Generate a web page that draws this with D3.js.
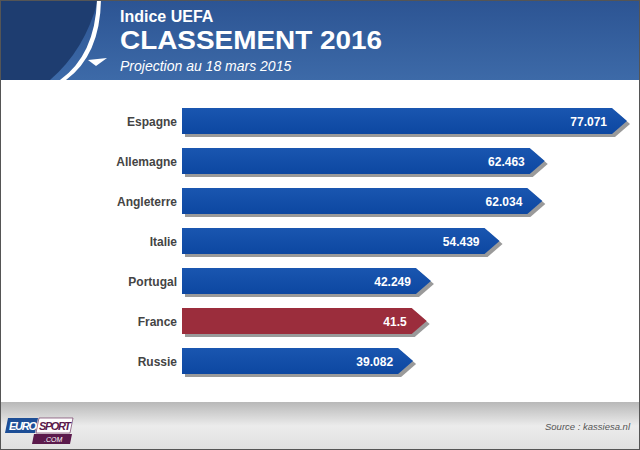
<!DOCTYPE html><html><head><script src="https://cdn.jsdelivr.net/npm/d3@7"></script>
<style>body{margin:0}svg{display:block;font-family:Arial,"Liberation Sans",sans-serif}</style></head><body>
<script>
const countries=["Espagne","Allemagne","Angleterre","Italie","Portugal","France","Russie"];
const values=[77.071,62.463,62.034,54.439,42.249,41.5,39.082];
const labels=["77.071","62.463","62.034","54.439","42.249","41.5","39.082"];
const W=640,H=450;
const svg=d3.select("body").append("svg").attr("width",W).attr("height",H);
const defs=svg.append("defs");
const hg=defs.append("linearGradient").attr("id","hg").attr("x1",0).attr("x2",0).attr("y1",0).attr("y2",1);
hg.append("stop").attr("offset",0).attr("stop-color","#2c5493");hg.append("stop").attr("offset",1).attr("stop-color","#3d6aa8");
const fg=defs.append("linearGradient").attr("id","fg").attr("x1",0).attr("x2",0).attr("y1",0).attr("y2",1);
fg.append("stop").attr("offset",0).attr("stop-color","#b8b8b8");fg.append("stop").attr("offset",0.5).attr("stop-color","#ececec");fg.append("stop").attr("offset",1).attr("stop-color","#e0e0e0");
const bg=defs.append("linearGradient").attr("id","bg").attr("x1",0).attr("x2",0).attr("y1",0).attr("y2",1);
bg.append("stop").attr("offset",0).attr("stop-color","#1a56b0");bg.append("stop").attr("offset",1).attr("stop-color","#0d47a1");
svg.append("rect").attr("width",W).attr("height",H).attr("fill","#fff");
svg.append("rect").attr("width",W).attr("height",80).attr("fill","url(#hg)");
svg.append("path").attr("d","M0,0 L98,0 Q85,50 50,80 L0,80Z").attr("fill","#1e3d70");
svg.append("path").attr("d","M97,0 Q95,55 60,80 L66,80 Q100,55 101,0Z").attr("fill","#fff");
svg.append("path").attr("d","M88,60 L107,58 L96,66Z").attr("fill","#fff");
svg.append("text").attr("x",120).attr("y",22).attr("fill","#fff").attr("font-size",16).attr("font-weight","bold").text("Indice UEFA");
svg.append("text").attr("x",120).attr("y",49).attr("fill","#fff").attr("font-size",26).attr("font-weight","bold").attr("textLength",262).attr("lengthAdjust","spacingAndGlyphs").text("CLASSEMENT 2016");
svg.append("text").attr("x",120).attr("y",71).attr("fill","#fff").attr("font-size",14).attr("font-style","italic").text("Projection au 18 mars 2015");
svg.append("rect").attr("y",402).attr("width",W).attr("height",48).attr("fill","url(#fg)");
svg.append("text").attr("x",630).attr("y",430).attr("text-anchor","end").attr("fill","#555").attr("font-size",9.5).attr("font-style","italic").text("Source : kassiesa.nl");
svg.append("path").attr("d","M8,418 L38,418 L35,433 L5,433Z").attr("fill","#1d4e96");
svg.append("path").attr("d","M39,418 L73,418 L70,433 L36,433Z").attr("fill","#fff").attr("stroke","#5b1a4c").attr("stroke-width",0.6);
svg.append("path").attr("d","M34,434 L72,434 L70,444 L32,444Z").attr("fill","#5b1a4c");
svg.append("text").attr("x",9).attr("y",430).attr("fill","#fff").attr("font-size",11).attr("font-weight","bold").attr("font-style","italic").attr("textLength",28).text("EURO");
svg.append("text").attr("x",39).attr("y",430).attr("fill","#5b1a4c").attr("font-size",11).attr("font-weight","bold").attr("font-style","italic").attr("textLength",32).text("SPORT");
svg.append("text").attr("x",44).attr("y",442).attr("fill","#fff").attr("font-size",7).attr("font-style","italic").text(".COM");
svg.append("rect").attr("x",0.5).attr("y",0.5).attr("width",W-1).attr("height",H-1).attr("fill","none").attr("stroke","#555");
const x=d3.scaleLinear().domain([0,77.071]).range([193,627]);
const y=d3.scaleBand().domain(countries).range([101,381]).paddingInner(0.35).paddingOuter(0.175);
const h=y.bandwidth(),tip=15,x0=182;
const arrow=(v,i,dx,dy)=>{const a=x0+dx,x1=x(v)+dx,t=y(countries[i])+dy;return `M${a},${t}L${x1-tip},${t}L${x1},${t+h/2}L${x1-tip},${t+h}L${a},${t+h}Z`;};
const g=svg.append("g");
values.forEach((v,i)=>{
 const c=countries[i];
 g.append("path").attr("d",arrow(v,i,3,3)).attr("fill","#9a9a9a");
 g.append("path").attr("d",arrow(v,i,0,0)).attr("fill",c==="France"?"#9b2d3c":"url(#bg)");
 g.append("text").attr("x",x(v)-tip-5).attr("y",y(c)+h/2+4.5).attr("text-anchor","end").attr("fill","#fff").attr("font-size",12).attr("font-weight","bold").text(labels[i]);
 g.append("text").attr("x",177).attr("y",y(c)+h/2+4.5).attr("text-anchor","end").attr("fill","#444").attr("font-size",12).attr("font-weight","bold").text(c);
});
</script></body></html>
